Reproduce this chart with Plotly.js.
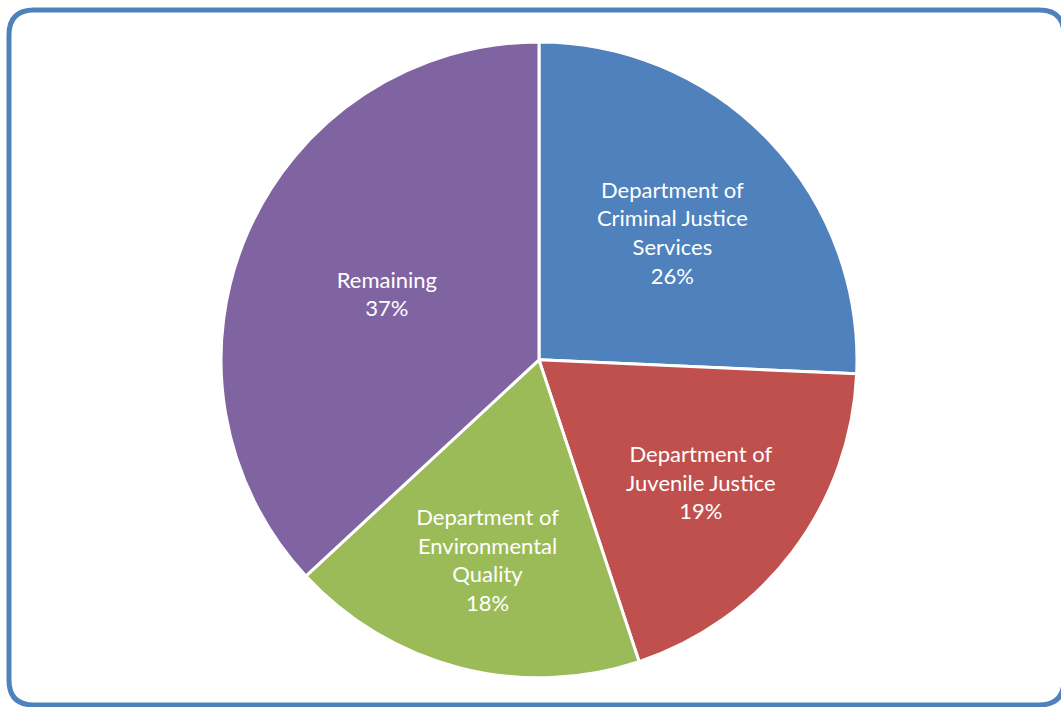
<!DOCTYPE html>
<html>
<head>
<meta charset="utf-8">
<script src="https://cdn.plot.ly/plotly-3.0.1.min.js"></script>
<style>
html,body{margin:0;padding:0;background:#fff;}
#chart{width:1061px;height:707px;}
</style>
</head>
<body>
<div id="chart"></div>
<script>
const categories = [
  "Department of<br>Criminal Justice<br>Services",
  "Department of<br>Juvenile Justice",
  "Department of<br>Environmental<br>Quality",
  "Remaining"
];
const shares = [25.7, 19.2, 18.2, 36.9];
const sliceColors = ["#4F81BD", "#C0504D", "#9BBB59", "#8064A2"];

const W = 1061, H = 707;
function px(x){ return (x / W).toFixed(5); }
function py(y){ return (1 - y / H).toFixed(5); }
// rounded border frame
const L = 9, T = 10, R = 1064, B = 705, r = 25;
const framePath =
  "M " + px(L + r) + "," + py(T) +
  " L " + px(R - r) + "," + py(T) +
  " Q " + px(R) + "," + py(T) + " " + px(R) + "," + py(T + r) +
  " L " + px(R) + "," + py(B - r) +
  " Q " + px(R) + "," + py(B) + " " + px(R - r) + "," + py(B) +
  " L " + px(L + r) + "," + py(B) +
  " Q " + px(L) + "," + py(B) + " " + px(L) + "," + py(B - r) +
  " L " + px(L) + "," + py(T + r) +
  " Q " + px(L) + "," + py(T) + " " + px(L + r) + "," + py(T) + " Z";

const trace = {
  type: "pie",
  labels: categories,
  values: shares,
  sort: false,
  direction: "clockwise",
  rotation: 0,
  marker: {colors: sliceColors, line: {color: "#ffffff", width: 3}},
  textposition: "inside",
  insidetextorientation: "horizontal",
  texttemplate: "%{label}<br>%{percent:.0%}",
  textfont: {family: "Lato, 'Open Sans', sans-serif", size: 22, color: "#ffffff"},
  hoverinfo: "label+percent",
  domain: {x: [0.2083, 0.8077], y: [0.0410, 0.9410]},
  showlegend: false
};

const layout = {
  width: W, height: H,
  margin: {l: 0, r: 0, t: 0, b: 0},
  paper_bgcolor: "#ffffff",
  showlegend: false,
  shapes: [{
    type: "path", xref: "paper", yref: "paper",
    path: framePath,
    line: {color: "#4F81BD", width: 5},
    fillcolor: "rgba(0,0,0,0)",
    layer: "below"
  }]
};

Plotly.newPlot("chart", [trace], layout, {displayModeBar: false, staticPlot: true});
</script>
</body>
</html>
